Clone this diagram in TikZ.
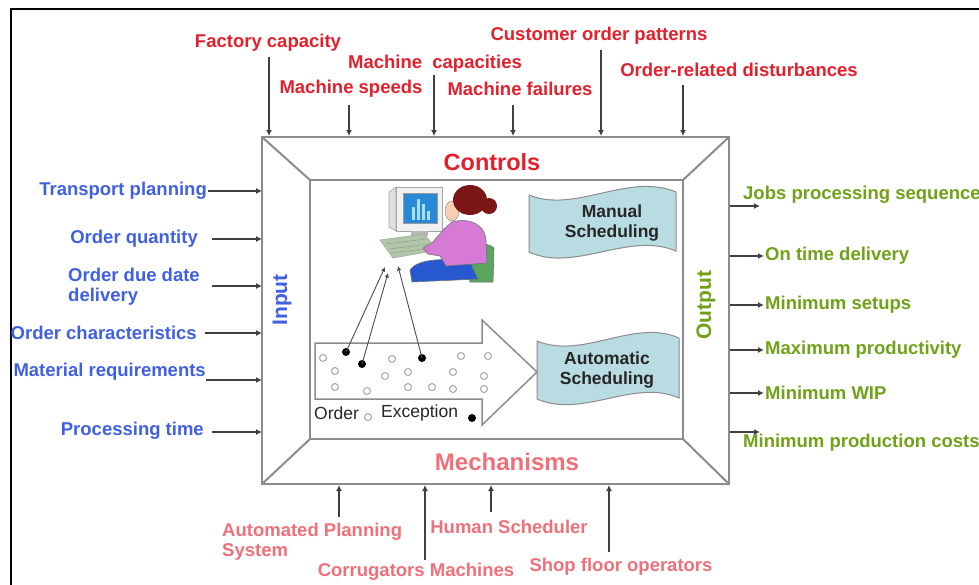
\documentclass[tikz,border=0pt]{standalone}
\usepackage{fontspec}
\setmainfont{Liberation Sans}
\usetikzlibrary{arrows.meta}

\definecolor{ctrlred}{RGB}{228,32,44}
\definecolor{mechpink}{RGB}{240,112,122}
\definecolor{inblue}{RGB}{64,96,228}
\definecolor{outgreen}{RGB}{112,162,24}
\definecolor{boxgray}{RGB}{140,140,140}
\definecolor{bannerfill}{RGB}{184,220,226}
\definecolor{screenblue}{RGB}{40,138,214}
\definecolor{barcyan}{RGB}{165,225,250}
\definecolor{deskgreen}{RGB}{176,200,168}
\definecolor{hairred}{RGB}{125,22,22}
\definecolor{skin}{RGB}{246,208,176}
\definecolor{shirt}{RGB}{214,122,214}
\definecolor{chairgreen}{RGB}{88,165,92}
\definecolor{skirtblue}{RGB}{40,88,208}

\begin{document}
\begin{tikzpicture}[x=1pt,y=-1pt,
  lbl/.style={inner sep=0pt, font=\fontsize{18.5}{20}\selectfont\bfseries},
  ctl/.style={lbl, text=ctrlred},
  inp/.style={lbl, text=inblue},
  outp/.style={lbl, text=outgreen},
  mech/.style={lbl, text=mechpink},
  sidetitle/.style={inner sep=0pt, rotate=90, font=\fontsize{21}{21}\selectfont\bfseries},
  feed/.style={draw=black!75, line width=1.2pt, -{Latex[length=6pt,width=6pt]}},
  boxline/.style={draw=boxgray, line width=2pt},
  banner/.style={draw=boxgray, line width=1pt, fill=bannerfill},
  bantext/.style={inner sep=0pt, align=center, text=black!85,
    font=\fontsize{17.5}{20}\selectfont\bfseries},
  keytext/.style={inner sep=0pt, text=black!85, font=\fontsize{17.5}{20}\selectfont},
  opendot/.style={draw=gray!70, line width=1pt, fill=white},
  fulldot/.style={fill=black},
  pointer/.style={draw=black!70, line width=0.9pt, -{Latex[length=4.5pt,width=4.5pt]}}]

\useasboundingbox (0,0) rectangle (979,584);
\clip (0,0) rectangle (979,584);
\fill[white] (0,0) rectangle (979,584);

% page frame
\draw[black, line width=2.5pt] (11,586) -- (11,9) -- (981,9);

% ---------- frame of the scheduling box ----------
\draw[boxline] (262,137) rectangle (729,484);
\draw[boxline] (310,180) rectangle (683,439);
\draw[boxline] (262,137) -- (310,180);
\draw[boxline] (729,137) -- (683,180);
\draw[boxline] (262,484) -- (310,439);
\draw[boxline] (729,484) -- (683,439);

\node[ctl, font=\fontsize{23.5}{24}\selectfont\bfseries] (controls) at (492,162) {Controls};
\node[mech, font=\fontsize{24}{24}\selectfont\bfseries] (mechanisms) at (507,462) {Mechanisms};
\node[sidetitle, text=inblue] (input) at (282,300) {Input};
\node[sidetitle, text=outgreen] (output) at (706,305) {Output};

% ---------- controls (top) ----------
\node[ctl] (fc) at (268,43) {Factory capacity};
\node[ctl] (mc) at (435,64) {Machine\ \ capacities};
\node[ctl] (ms) at (351,89) {Machine speeds};
\node[ctl] (mf) at (520,89) {Machine failures};
\node[ctl] (cop) at (599,36) {Customer order patterns};
\node[ctl] (ord) at (739,70) {Order-related disturbances};

\coordinate (fc-a) at (269,57);  \coordinate (fc-b) at (269,136);
\coordinate (ms-a) at (349,105); \coordinate (ms-b) at (349,136);
\coordinate (mc-a) at (434,75);  \coordinate (mc-b) at (434,136);
\coordinate (mf-a) at (513,105); \coordinate (mf-b) at (513,136);
\coordinate (cop-a) at (601,50); \coordinate (cop-b) at (601,136);
\coordinate (ord-a) at (683,85); \coordinate (ord-b) at (683,136);
\foreach \n in {fc,ms,mc,mf,cop,ord} \draw[feed] (\n-a) -- (\n-b);

% ---------- inputs (left) ----------
\node[inp, anchor=east] (tp) at (207,191) {Transport planning};
\node[inp, anchor=east] (oq) at (198,239) {Order quantity};
\node[inp, anchor=west, align=left] (odd) at (68,287) {Order due date\\delivery};
\node[inp, anchor=east] (oc) at (197,333) {Order characteristics};
\node[inp, anchor=east] (mr) at (206,372) {Material requirements};
\node[inp, anchor=east] (pt) at (204,431) {Processing time};

\coordinate (tp-a) at (208,191);  \coordinate (tp-b) at (262,191);
\coordinate (oq-a) at (212,239);  \coordinate (oq-b) at (262,239);
\coordinate (odd-a) at (212,286); \coordinate (odd-b) at (262,286);
\coordinate (oc-a) at (205,333);  \coordinate (oc-b) at (262,333);
\coordinate (mr-a) at (206,380);  \coordinate (mr-b) at (262,380);
\coordinate (pt-a) at (212,432);  \coordinate (pt-b) at (262,432);
\foreach \n in {tp,oq,odd,oc,mr,pt} \draw[feed] (\n-a) -- (\n-b);

% ---------- outputs (right) ----------
\node[outp, anchor=west] (jps) at (743,195) {Jobs processing sequence};
\node[outp, anchor=west] (otd) at (765,256) {On time delivery};
\node[outp, anchor=west] (mset) at (765,305) {Minimum setups};
\node[outp, anchor=west] (mprod) at (765,350) {Maximum productivity};
\node[outp, anchor=west] (mwip) at (765,393) {Minimum WIP};
\node[outp, anchor=west] (mpc) at (743,443) {Minimum production costs};

\coordinate (jps-a) at (730,206);   \coordinate (jps-b) at (760,206);
\coordinate (otd-a) at (730,256);   \coordinate (otd-b) at (764,256);
\coordinate (mset-a) at (730,305);  \coordinate (mset-b) at (764,305);
\coordinate (mprod-a) at (730,350); \coordinate (mprod-b) at (764,350);
\coordinate (mwip-a) at (730,393);  \coordinate (mwip-b) at (764,393);
\coordinate (mpc-a) at (730,432);   \coordinate (mpc-b) at (760,432);
\foreach \n in {jps,otd,mset,mprod,mwip,mpc} \draw[feed] (\n-a) -- (\n-b);

% ---------- mechanisms (bottom) ----------
\node[mech, anchor=west, align=left] (aps) at (222,542) {Automated Planning\\System};
\node[mech] (corr) at (416,572) {Corrugators Machines};
\node[mech] (hum) at (509,527) {Human Scheduler};
\node[mech] (shop) at (621,567) {Shop floor operators};

\coordinate (aps-a) at (339,517);  \coordinate (aps-b) at (339,485);
\coordinate (corr-a) at (425,560); \coordinate (corr-b) at (425,485);
\coordinate (hum-a) at (491,512);  \coordinate (hum-b) at (491,485);
\coordinate (shop-a) at (609,552); \coordinate (shop-b) at (609,485);
\foreach \n in {aps,corr,hum,shop} \draw[feed] (\n-a) -- (\n-b);

% ---------- scheduling banners ----------
\path[banner] (529,195) .. controls (575,214) and (628,172) .. (676,192)
  -- (676,251) .. controls (628,231) and (575,273) .. (529,252) -- cycle;
\node[bantext] (manual) at (612,223) {Manual\\Scheduling};

\path[banner] (537,341) .. controls (583,360) and (634,318) .. (679,338)
  -- (679,398) .. controls (634,378) and (583,419) .. (537,399) -- cycle;
\node[bantext] (auto) at (607,370) {Automatic\\Scheduling};

% ---------- order flow arrow ----------
\path[draw=boxgray, line width=1.5pt, fill=white]
  (315,343) -- (482,343) -- (482,320) -- (537,372) -- (482,425)
  -- (482,399) -- (315,399) -- cycle;

\foreach \p in {(323,358),(335,371),(335,387),(367,391),(385,376),(392,359),
                (408,372),(408,387),(432,387),(453,372),(453,389),(461,356),
                (488,356),(484,376),(484,389)}
  \draw[opendot] \p circle (3.5);
\fill[fulldot] (346,352) circle (4) coordinate (ex1);
\fill[fulldot] (362,364) circle (4) coordinate (ex2);
\fill[fulldot] (422,358) circle (4) coordinate (ex3);

\node[keytext, anchor=west] (ordkey) at (314,413) {Order};
\draw[opendot] (368,417) circle (3.5);
\node[keytext, anchor=west] (exckey) at (381,413) {Exception};
\fill[fulldot] (472,418) circle (4);

% ---------- scheduler at the computer ----------
% monitor
\filldraw[fill=gray!25, draw=gray!70, line width=0.6pt]
  (389,192) -- (396,187) -- (396,231) -- (389,227) -- cycle;
\filldraw[fill=gray!12, draw=gray!70, line width=0.6pt] (396,187) rectangle (442,231);
\filldraw[fill=screenblue, draw=gray!80, line width=0.6pt] (403,193) rectangle (437,223);
\fill[barcyan] (412,207) rectangle (415,220);
\fill[barcyan] (417,199) rectangle (420,220);
\fill[barcyan] (422,204) rectangle (425,220);
\fill[barcyan] (427,211) rectangle (430,220);
\fill[gray!55] (411,231) rectangle (428,236);
% desk and keyboard
\filldraw[fill=deskgreen, draw=gray!70, line width=0.6pt]
  (380,240) -- (424,234) -- (438,250) -- (393,258) -- cycle;
\draw[gray!75, line width=0.6pt] (386,244) -- (426,239) (389,249) -- (430,244) (391,253) -- (433,248);
% chair
\filldraw[fill=chairgreen, draw=black!55, line width=0.6pt]
  (463,252) .. controls (470,242) and (488,242) .. (494,248) -- (493,282) -- (470,282) -- cycle;
% skirt
\filldraw[fill=skirtblue, draw=black!55, line width=0.6pt]
  (410,270) .. controls (418,258) and (448,258) .. (470,262) -- (478,279) -- (412,282) -- cycle;
% shirt and arm
\filldraw[fill=shirt, draw=black!55, line width=0.6pt]
  (452,222) .. controls (470,217) and (485,225) .. (486,240) -- (487,263)
  -- (446,266) -- (440,256) -- (428,254) -- (423,248) -- (432,243) -- (444,229) -- cycle;
% head
\filldraw[fill=skin, draw=black!45, line width=0.5pt] (452,211) ellipse (7 and 10);
\fill[hairred] (470,200) ellipse (17 and 15);
\fill[hairred] (489,206) circle (8);

% exceptions sent to the scheduler
\coordinate (kb1) at (385,267);
\coordinate (kb2) at (388,273);
\coordinate (kb3) at (398,266);
\draw[pointer] (ex1) -- (kb1);
\draw[pointer] (ex2) -- (kb2);
\draw[pointer] (ex3) -- (kb3);

\end{tikzpicture}
\end{document}
